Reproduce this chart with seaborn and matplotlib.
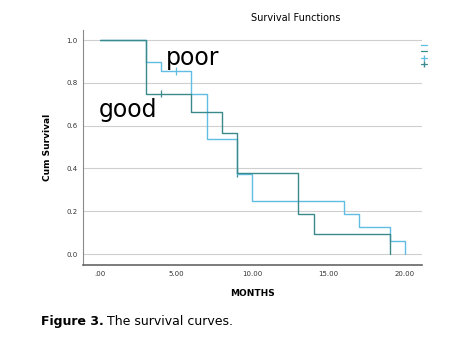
import pandas as pd
import numpy as np
import matplotlib
matplotlib.use("Agg")
import matplotlib.pyplot as plt
import seaborn as sns
from matplotlib.lines import Line2D

# step survival curves
good_months = [0, 3, 6, 8, 9, 13, 14, 19]
good_surv = [1.0, 0.75, 0.663, 0.568, 0.379, 0.189, 0.095, 0.0]
poor_months = [0, 3, 4, 6, 7, 9, 10, 16, 17, 19, 20]
poor_surv = [1.0, 0.9, 0.857, 0.75, 0.536, 0.375, 0.25, 0.1875, 0.125, 0.0625, 0.0]

# censored observations
good_cens_t = [4, 9]
good_cens_s = [0.75, 0.379]
poor_cens_t = [5]
poor_cens_s = [0.857]

x_ticks = [0, 5, 10, 15, 20]
x_labels = [".00", "5.00", "10.00", "15.00", "20.00"]
y_ticks = [0.0, 0.2, 0.4, 0.6, 0.8, 1.0]

dark = "#3a8a8c"
light = "#62bde4"

curves = pd.concat([
    pd.DataFrame({"months": poor_months, "surv": poor_surv, "group": "poor"}),
    pd.DataFrame({"months": good_months, "surv": good_surv, "group": "good"}),
])
cens = pd.concat([
    pd.DataFrame({"months": poor_cens_t, "surv": poor_cens_s, "group": "poor"}),
    pd.DataFrame({"months": good_cens_t, "surv": good_cens_s, "group": "good"}),
])
pal = {"poor": light, "good": dark}

sns.set_style("white")
fig = plt.figure(figsize=(4.62, 3.5), dpi=100)
ax = fig.add_axes([0.18, 0.243, 0.733, 0.671])

ax.grid(axis="y", color="#cfcfcf", lw=0.8)
ax.set_axisbelow(True)

sns.lineplot(data=curves, x="months", y="surv", hue="group", palette=pal,
             estimator=None, drawstyle="steps-post", lw=1.0, legend=False, ax=ax)
sns.scatterplot(data=cens, x="months", y="surv", hue="group", palette=pal,
                marker="|", s=30, linewidth=0.9, legend=False, ax=ax)

ax.set_xlim(-1.1, 21.1)
ax.set_ylim(-0.051, 1.047)
ax.set_xticks(x_ticks)
ax.set_xticklabels(x_labels)
ax.set_yticks(y_ticks)
ax.set_yticklabels([f"{v:.1f}" for v in y_ticks])
ax.tick_params(labelsize=5, length=0, pad=4, colors="#333333")

for s in ["top", "right"]:
    ax.spines[s].set_visible(False)
ax.spines["left"].set_color("#8a8a8a")
ax.spines["left"].set_linewidth(0.8)
ax.spines["bottom"].set_color("#666666")
ax.spines["bottom"].set_linewidth(1.2)

ax.set_xlabel("MONTHS", fontsize=6.5, fontweight="bold", labelpad=9, color="black")
ax.set_ylabel("Cum Survival", fontsize=6.5, fontweight="bold", labelpad=10, color="black")

ax.text(4.3, 0.86, "poor", fontsize=17, color="black", va="bottom")
ax.text(-0.1, 0.615, "good", fontsize=17, color="black", va="bottom")

fig.text(0.64, 0.948, "Survival Functions", fontsize=7, ha="center", va="center",
         color="black")

# legend (labels cut off in the original)
handles = [Line2D([], [], color=light, lw=0.9),
           Line2D([], [], color=dark, lw=0.9),
           Line2D([], [], color=light, lw=0.9, marker="|", markersize=5),
           Line2D([], [], color=dark, lw=0.9, marker="|", markersize=5)]
ax.legend(handles, ["", "", "", ""], loc="upper left", bbox_to_anchor=(0.99, 0.96),
          frameon=False, handlelength=0.9, handletextpad=0, labelspacing=0.05,
          fontsize=5, borderaxespad=0)

fig.text(0.089, 0.082, "Figure 3.", fontsize=9, fontweight="bold", va="center",
         color="black")
fig.text(0.232, 0.082, "The survival curves.", fontsize=9, va="center", color="black")

fig.savefig("out.png", dpi=100)
